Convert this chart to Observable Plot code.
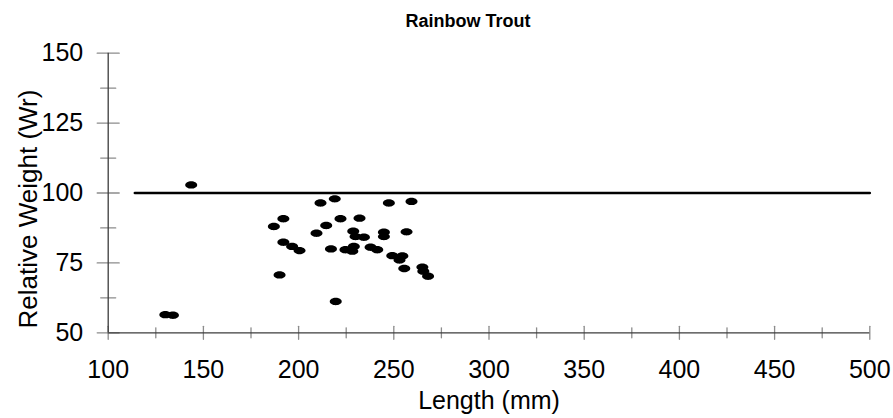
<!DOCTYPE html>
<html>
<head>
<meta charset="utf-8">
<script src="https://cdn.jsdelivr.net/npm/d3@7"></script>
<script src="https://cdn.jsdelivr.net/npm/@observablehq/plot@0.6"></script>
<style>
  html, body { margin: 0; padding: 0; background: #fff; }
  #wrap { width: 893px; font-family: "Liberation Sans", Arial, sans-serif; }
  #title { position: relative; width: 893px; height: 40px; }
  #title span { position: absolute; left: 468px; top: 11px; transform: translateX(-50%);
    font-size: 18px; font-weight: bold; line-height: 20px; color: #000; white-space: nowrap; }
</style>
</head>
<body>
<div id="wrap">
  <div id="title"><span>Rainbow Trout</span></div>
  <div id="chart"></div>
</div>
<script>
// Length (mm) of each fish
const lengths = [130, 134, 143.6,
  187, 192, 192, 196.6, 200.5, 190,
  211.5, 219, 209.4, 214.5, 222, 217, 219.5,
  224.6, 228.7, 229.9, 234.3, 229, 228.2, 232,
  237.8, 241.3, 244.8, 244.8, 247.4, 249.2,
  253, 254.5, 255.5, 256.7, 259.3, 265, 265.5, 268];
// Relative weight (Wr) of each fish
const weights = [56.5, 56.3, 102.9,
  88, 90.8, 82.4, 80.9, 79.4, 70.7,
  96.4, 97.9, 85.6, 88.4, 90.8, 80, 61.2,
  79.7, 86.3, 84.4, 84.2, 80.9, 79.2, 91,
  80.6, 79.7, 86, 84.4, 96.4, 77.6,
  76, 77.5, 73, 86.1, 97, 73.5, 72, 70.2];
// Reference line Wr = 100
const refX = [114, 500];
const refY = [100, 100];
// Axis ticks
const xTicks = [100, 150, 200, 250, 300, 350, 400, 450, 500];
const xMinorTicks = [125, 175, 225, 275, 325, 375, 425, 475];
const yTicks = [50, 75, 100, 125, 150];
const yMinorTicks = [62.5, 87.5, 112.5, 137.5];
const xDomain = [100, 500];
const yDomain = [50, 150];

const fish = lengths.map((l, i) => ({length: l, wr: weights[i]}));
const ref = refX.map((x, i) => ({x, y: refY[i]}));

const ellipse = {
  draw(context) {
    const rx = 6, ry = 3.7, k = 0.5523;
    context.moveTo(rx, 0);
    context.bezierCurveTo(rx, k * ry, k * rx, ry, 0, ry);
    context.bezierCurveTo(-k * rx, ry, -rx, k * ry, -rx, 0);
    context.bezierCurveTo(-rx, -k * ry, -k * rx, -ry, 0, -ry);
    context.bezierCurveTo(k * rx, -ry, rx, -k * ry, rx, 0);
    context.closePath();
  }
};
const seg = {
  draw(context, l) {
    context.moveTo(0, 0);
    context.lineTo(0, -l);
  }
};

const tickColor = "#8c8c8c";
const axisColor = "#3c3c3c";
const font = "Liberation Sans, Arial, sans-serif";

const chart = Plot.plot({
  width: 893,
  height: 378,
  marginLeft: 107.7,
  marginRight: 23.7,
  marginTop: 12.7,
  marginBottom: 85.7,
  style: {fontFamily: font, background: "#fff", color: "#000", overflow: "visible"},
  x: {domain: xDomain, ticks: xTicks, nice: false},
  y: {domain: yDomain, ticks: yTicks, nice: false},
  marks: [
    // tick labels
    Plot.axisX({ticks: xTicks, tickSize: 0, tickPadding: 27, fontSize: 25, label: null, fill: "#000"}),
    Plot.axisY({ticks: yTicks, tickSize: 0, tickPadding: 25, fontSize: 25, label: null, fill: "#000"}),
    // tick marks crossing the axes
    Plot.vector(xTicks, {x: d => d, y: yDomain[0], length: 13, rotate: 0, anchor: "middle", shape: seg, stroke: tickColor, strokeWidth: 1.3}),
    Plot.vector(xMinorTicks, {x: d => d, y: yDomain[0], length: 10, rotate: 0, anchor: "middle", shape: seg, stroke: tickColor, strokeWidth: 1.3}),
    Plot.vector(yTicks, {x: xDomain[0], y: d => d, length: 22, rotate: 90, anchor: "middle", shape: seg, stroke: tickColor, strokeWidth: 1.3}),
    Plot.vector(yMinorTicks, {x: xDomain[0], y: d => d, length: 15, rotate: 90, anchor: "middle", shape: seg, stroke: tickColor, strokeWidth: 1.3}),
    // axis lines
    Plot.ruleX([xDomain[0]], {y1: yDomain[0], y2: yDomain[1], stroke: axisColor, strokeWidth: 1.3}),
    Plot.ruleY([yDomain[0]], {x1: xDomain[0], x2: xDomain[1], stroke: axisColor, strokeWidth: 1.3}),
    // reference line
    Plot.line(ref, {x: "x", y: "y", stroke: "#000", strokeWidth: 2.6}),
    // data points
    Plot.dot(fish, {x: "length", y: "wr", symbol: ellipse, fill: "#000", stroke: "none"}),
    // axis titles
    Plot.text(["Length (mm)"], {frameAnchor: "bottom", dy: 68, text: d => d, fontSize: 25, fill: "#000", lineAnchor: "middle", textAnchor: "middle"}),
    Plot.text(["Relative Weight (Wr)"], {frameAnchor: "left", dx: -80, dy: 16, rotate: -90, text: d => d, fontSize: 26, fill: "#000", lineAnchor: "middle", textAnchor: "middle"})
  ]
});
document.getElementById("chart").appendChild(chart);
</script>
</body>
</html>
